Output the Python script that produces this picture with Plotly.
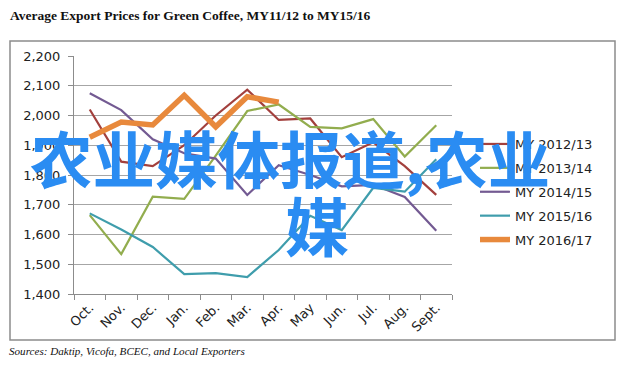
import plotly.graph_objects as go

months = ["Oct.", "Nov.", "Dec.", "Jan.", "Feb.", "Mar.", "Apr.", "May", "Jun.", "Jul.", "Aug.", "Sept."]

my_2012_13 = [2020, 1845, 1830, 1900, 2000, 2087, 1985, 1990, 1860, 1910, 1830, 1733]
my_2013_14 = [1665, 1534, 1727, 1720, 1865, 2015, 2037, 1962, 1957, 1988, 1862, 1967]
my_2014_15 = [2075, 2018, 1920, 1873, 1855, 1733, 1833, 1800, 1762, 1767, 1726, 1613]
my_2015_16 = [1671, 1617, 1558, 1467, 1470, 1457, 1548, 1663, 1615, 1757, 1744, 1853]
my_2016_17 = [1927, 1978, 1968, 2068, 1962, 2063, 2045]

series_names = ["MY 2012/13", "MY 2013/14", "MY 2014/15", "MY 2015/16", "MY 2016/17"]
series_values = [my_2012_13, my_2013_14, my_2014_15, my_2015_16, my_2016_17]
colors = ["#A3403D", "#92AD4E", "#735A92", "#3F9DAC", "#E8893C"]
widths = [2.2, 2.2, 2.2, 2.2, 5.5]

title_text = "Average Export Prices for Green Coffee, MY11/12 to MY15/16"
source_text = "Sources: Daktip, Vicofa, BCEC, and Local Exporters"
watermark_1 = "农业媒体报道,农业"
watermark_2 = "媒"

fig = go.Figure()
for name, vals, c, w in zip(series_names, series_values, colors, widths):
    fig.add_trace(go.Scatter(
        x=months[:len(vals)], y=vals, mode="lines", name=name,
        line=dict(color=c, width=w), legendgroup=name,
    ))

W, H = 628, 372
L, R, T, B = 74, 176, 56, 78
pw, ph = W - L - R, H - T - B

def px_x(p):
    return (p - L) / pw

def px_y(p):
    return (H - B - p) / ph

axis_font = dict(family="DejaVu Sans", size=13, color="#222222")

fig.update_layout(
    width=W, height=H,
    margin=dict(l=L, r=R, t=T, b=B, pad=0),
    paper_bgcolor="white", plot_bgcolor="white",
    showlegend=True,
    legend=dict(
        x=px_x(475), y=px_y(129), xanchor="left", yanchor="top",
        font=dict(family="DejaVu Sans", size=13, color="#222222"),
        bgcolor="rgba(0,0,0,0)", tracegroupgap=4, itemwidth=30,
    ),
    xaxis=dict(
        type="category", categoryorder="array", categoryarray=months,
        range=[-0.5, 11.5],
        showline=True, linecolor="#8C8C8C", linewidth=1,
        ticks="outside", tickson="boundaries", ticklen=5, tickcolor="#8C8C8C",
        tickangle=-45, tickfont=axis_font, showgrid=False,
    ),
    yaxis=dict(
        range=[1400, 2200], dtick=100, tickformat=",",
        showline=True, linecolor="#8C8C8C", linewidth=1,
        ticks="outside", ticklen=5, tickcolor="#8C8C8C", ticklabelstandoff=5,
        showgrid=True, gridcolor="#A6A6A6", gridwidth=1,
        tickfont=axis_font, zeroline=False,
    ),
    shapes=[dict(
        type="rect", xref="paper", yref="paper",
        x0=px_x(10), x1=px_x(615), y0=px_y(340), y1=px_y(41),
        line=dict(color="#8C8C8C", width=1.5), layer="below",
    )],
    annotations=[
        dict(text="<b>" + title_text + "</b>", xref="paper", yref="paper",
             x=px_x(8), y=px_y(16), xanchor="left", yanchor="middle", showarrow=False,
             font=dict(family="Liberation Serif", size=13.5, color="#111111")),
        dict(text="<i>" + source_text + "</i>", xref="paper", yref="paper",
             x=px_x(7), y=px_y(351), xanchor="left", yanchor="middle", showarrow=False,
             font=dict(family="Liberation Serif", size=11.1, color="#111111")),
        dict(text=watermark_1, xref="paper", yref="paper",
             x=px_x(290), y=px_y(156), xanchor="center", yanchor="middle", showarrow=False,
             font=dict(family="Noto Sans CJK SC", size=62.5, color="#2A8CF2", weight="bold")),
        dict(text=watermark_2, xref="paper", yref="paper",
             x=px_x(317), y=px_y(223), xanchor="center", yanchor="middle", showarrow=False,
             font=dict(family="Noto Sans CJK SC", size=64, color="#2A8CF2", weight="bold")),
    ],
)

fig.write_html(
    "out.html",
    config={"displayModeBar": False},
    post_script="document.body.style.margin='0';document.body.style.overflow='hidden';",
)
